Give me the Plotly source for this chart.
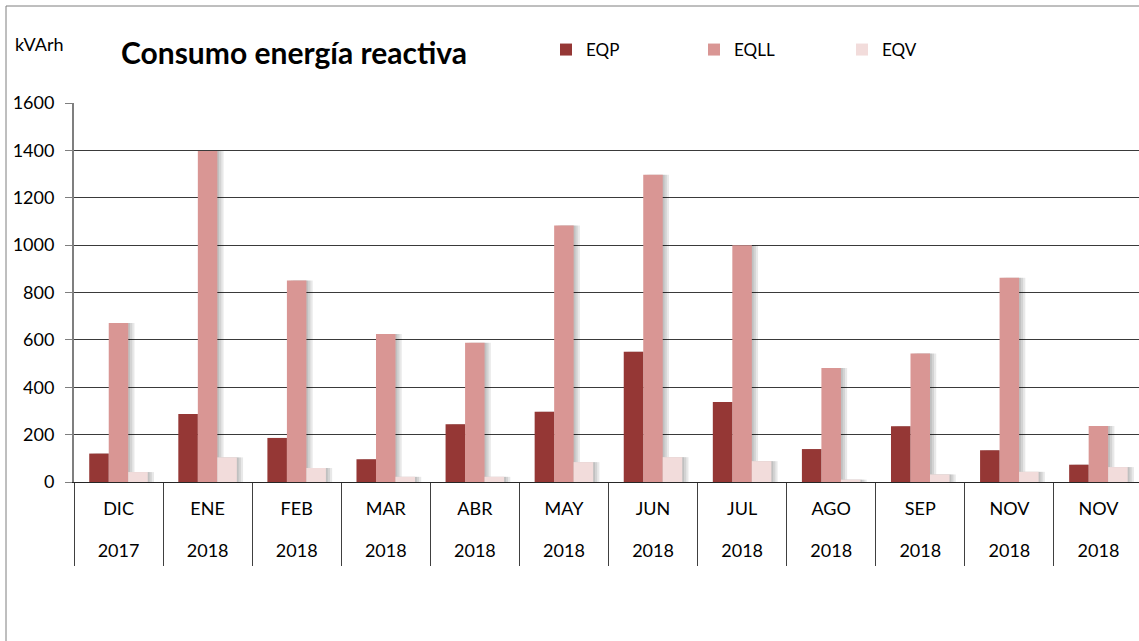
import plotly.graph_objects as go

# data
months = ["DIC", "ENE", "FEB", "MAR", "ABR", "MAY", "JUN", "JUL", "AGO", "SEP", "NOV", "NOV"]
years = ["2017", "2018", "2018", "2018", "2018", "2018", "2018", "2018", "2018", "2018", "2018", "2018"]
eqp = [120, 287, 186, 96, 244, 297, 550, 338, 139, 235, 134, 73]
eqll = [671, 1397, 851, 625, 588, 1083, 1297, 1000, 481, 542, 862, 236]
eqv = [42, 104, 59, 22, 22, 84, 105, 88, 10, 32, 43, 63]

idx = list(range(len(months)))
FONT = "Lato"
W, H = 1139, 641
L, R, T, B = 74, 0, 103, 159
pw, ph = W - L - R, H - T - B

series = [
    ("EQP", eqp, "#953735", -0.329),
    ("EQLL", eqll, "#D99694", -0.110),
    ("EQV", eqv, "#F2DCDB", 0.109),
]
bw = 0.219

fig = go.Figure()

# soft drop shadows (base subplot, drawn under the bars)
for name, vals, col, off in series:
    for dx in (0.02, 0.045, 0.07):
        fig.add_trace(go.Bar(
            x=idx, y=vals, width=bw, offset=off + dx,
            marker=dict(color="rgba(0,0,0,0.09)", line=dict(width=0)),
            showlegend=False, hoverinfo="skip", xaxis="x", yaxis="y"
        ))

# real bars on the overlaying axis
for name, vals, col, off in series:
    fig.add_trace(go.Bar(
        x=idx, y=vals, width=bw, offset=off, name=name,
        marker=dict(color=col, line=dict(width=0)),
        xaxis="x2", yaxis="y"
    ))

xr = [-0.5, 11.5 - 4 / 89]

fig.update_layout(
    width=W, height=H,
    margin=dict(l=L, r=R, t=T, b=B),
    paper_bgcolor="white", plot_bgcolor="white",
    barmode="overlay",
    font=dict(family=FONT, size=18, color="#000000"),
    title=dict(
        text="<b>Consumo energía reactiva</b>",
        font=dict(family=FONT, size=30, color="#000000"),
        x=(121 - L) / pw, xref="paper", xanchor="left",
        y=1 - 53 / H, yref="container", yanchor="middle",
    ),
    legend=dict(
        orientation="h", x=(546 - L) / pw, xanchor="left",
        y=1 + (T - 50) / ph, yanchor="middle",
        font=dict(size=17), entrywidth=103, entrywidthmode="pixels",
        bgcolor="rgba(0,0,0,0)", traceorder="normal",
    ),
    xaxis=dict(
        range=xr, tickmode="array", tickvals=idx, ticktext=months,
        ticks="", showgrid=False, zeroline=False,
        showline=True, linecolor="#262626", linewidth=1,
        ticklabelstandoff=10,
        minor=dict(tickmode="linear", tick0=-0.5, dtick=1, ticks="outside",
                   ticklen=83, tickcolor="#404040", tickwidth=1, showgrid=False),
        fixedrange=True,
    ),
    xaxis2=dict(
        range=xr, overlaying="x", side="bottom", anchor="y",
        tickmode="array", tickvals=idx, ticktext=years,
        ticks="", showgrid=False, zeroline=False, showline=False,
        ticklabelstandoff=56,
    ),
    yaxis=dict(
        range=[0, 1600], tickmode="linear", tick0=0, dtick=200,
        showgrid=True, gridcolor="#3a3a3a", gridwidth=1,
        zeroline=False, showline=True, linecolor="#7f7f7f", linewidth=2,
        ticks="outside", ticklen=7, tickcolor="#7f7f7f", tickwidth=1,
        ticklabelstandoff=7,
    ),
    annotations=[dict(
        text="kVArh", x=(13 - L) / pw, xref="paper", xanchor="left",
        y=1 + (T - 44) / ph, yref="paper", yanchor="middle",
        showarrow=False, font=dict(size=18),
    )],
    shapes=[dict(
        type="rect", xref="paper", yref="paper",
        x0=(6 - L) / pw, x1=1.1, y0=-0.6, y1=1 + (T - 6) / ph,
        line=dict(color="#7f7f7f", width=1), fillcolor="rgba(0,0,0,0)",
    )],
)

fig.write_html("out.html", config={"displayModeBar": False},
               post_script="document.body.style.margin='0';")
